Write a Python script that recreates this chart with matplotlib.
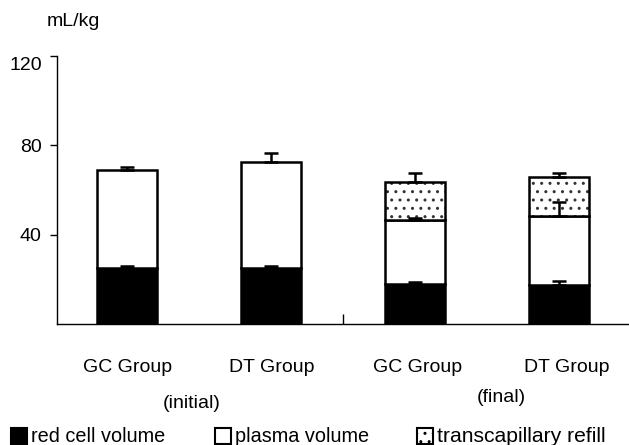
import numpy as np
import matplotlib
matplotlib.use('Agg')
import matplotlib.pyplot as plt
from matplotlib.patches import Rectangle
from matplotlib.transforms import ScaledTranslation

plt.rcParams['font.family'] = ['Liberation Sans', 'DejaVu Sans']
plt.rcParams['hatch.linewidth'] = 1.0

# values (mL/kg)
group_labels = ['GC Group', 'DT Group', 'GC Group', 'DT Group']
red_cell = [25.0, 25.0, 17.8, 17.3]
red_err = [0.7, 1.0, 1.0, 1.8]
plasma = [44.0, 47.5, 28.9, 31.1]
plasma_err = [1.3, 4.0, 0.8, 6.3]
refill = [0.0, 0.0, 16.9, 17.5]
refill_err = [0.0, 0.0, 3.8, 1.8]
yticks = [40, 80, 120]

x = np.arange(len(group_labels))
red_cell = np.array(red_cell)
plasma = np.array(plasma)
refill = np.array(refill)

fig = plt.figure(figsize=(6.29, 4.45), dpi=100)
ax = fig.add_axes([0.0906, 0.272, 0.9094, 0.603])

w = 0.417
lw = 1.8
ax.bar(x, red_cell, w, color='black', edgecolor='black', linewidth=lw, zorder=2)
ax.bar(x, plasma, w, bottom=red_cell, color='white', edgecolor='black', linewidth=lw, zorder=2)
has_refill = refill > 0
ax.bar(x[has_refill], refill[has_refill], w, bottom=(red_cell + plasma)[has_refill],
       color='white', edgecolor='#333333', hatch='..', linewidth=0, zorder=2)
ax.bar(x[has_refill], refill[has_refill], w, bottom=(red_cell + plasma)[has_refill],
       fill=False, edgecolor='black', linewidth=lw, zorder=3)

# upward-only error bars
def up_err(tops, errs):
    errs = np.array(errs)
    m = errs > 0
    ax.errorbar(x[m], np.array(tops)[m], yerr=[np.zeros(m.sum()), errs[m]],
                fmt='none', ecolor='black', elinewidth=1.8, capsize=5, capthick=1.8, zorder=4)

up_err(red_cell, red_err)
up_err(red_cell + plasma, plasma_err)
up_err(red_cell + plasma + refill, refill_err)

ax.set_xlim(-0.486, 3.486)
ax.set_ylim(0, 120)
ax.set_yticks(yticks)
ax.tick_params(axis='y', direction='out', length=5, width=1, labelsize=14, pad=6)
ax.set_xticks([1.5])
ax.set_xticklabels([''])
ax.tick_params(axis='x', direction='in', length=7, width=1)
for s in ['top', 'right']:
    ax.spines[s].set_visible(False)
ax.spines['left'].set_linewidth(1.0)
ax.spines['bottom'].set_linewidth(1.0)

# the top label sits a little below its tick in the original
top_lab = ax.get_yticklabels()[-1]
top_lab.set_transform(top_lab.get_transform() + ScaledTranslation(0, -8 / 100, fig.dpi_scale_trans))

fig.text(0.116, 1 - 22 / 445, 'mL/kg', fontsize=14, ha='center', va='center')

label_x = [127.5, 272, 418, 567]
for lx, lab in zip(label_x, group_labels):
    fig.text(lx / 629, 1 - 368 / 445, lab, fontsize=14, ha='center', va='center')
fig.text(192 / 629, 1 - 404 / 445, '(initial)', fontsize=14, ha='center', va='center')
fig.text(501 / 629, 1 - 398 / 445, '(final)', fontsize=14, ha='center', va='center')

# legend row
ly = 1 - 436 / 445
sq = 16
def legend_item(x0, text, face, size, hatch=None):
    r = Rectangle((x0 / 629, ly - sq / 2 / 445), sq / 629, sq / 445, transform=fig.transFigure,
                  facecolor=face, edgecolor='black', linewidth=1.5, hatch=hatch)
    fig.patches.append(r)
    fig.text((x0 + sq + 4) / 629, ly, text, fontsize=size, ha='left', va='center')

legend_item(11, 'red cell volume', 'black', 14.3)
legend_item(215, 'plasma volume', 'white', 14.3)
legend_item(417, 'transcapillary refill', 'white', 15.2, hatch='..')

fig.savefig('out.png', dpi=100)
